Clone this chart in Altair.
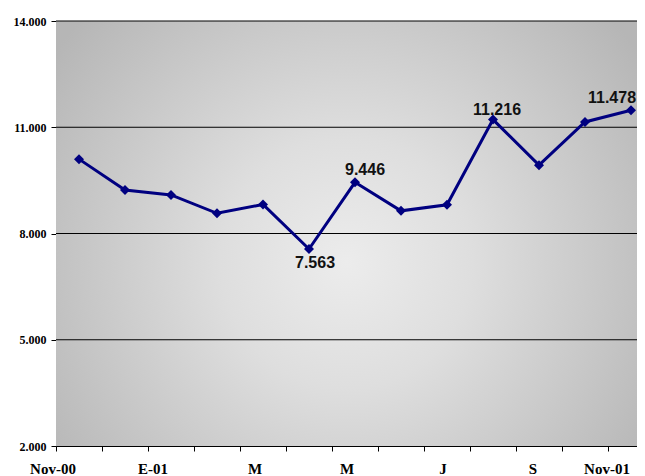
import altair as alt
import pandas as pd

months = ["Nov-00", "Dic-00", "Ene-01", "Feb-01", "Mar-01", "Abr-01", "May-01",
          "Jun-01", "Jul-01", "Ago-01", "Sep-01", "Oct-01", "Nov-01"]
tick_labels = ["Nov-00", "", "E-01", "", "M", "", "M", "", "J", "", "S", "", "Nov-01"]
values = [10100, 9230, 9090, 8570, 8820, 7563, 9446, 8640, 8810, 11216, 9930, 11150, 11478]
point_labels = ["", "", "", "", "", "7.563", "9.446", "", "", "11.216", "", "", "11.478"]
y_ticks = [2000, 5000, 8000, 11000, 14000]

df = pd.DataFrame({"month": months, "value": values, "label": point_labels})
grid_df = pd.DataFrame({"value": y_ticks[1:]})

months_js = "[" + ",".join(f"'{m}'" for m in months) + "]"
labels_js = "[" + ",".join(f"'{t}'" for t in tick_labels) + "]"
x_label_expr = f"{labels_js}[indexof({months_js}, datum.value)]"

NAVY = "#000080"
W, H = 581, 425

x_enc = alt.X(
    "month:N",
    sort=months,
    bandPosition=0.5,
    scale=alt.Scale(type="band", paddingInner=0, paddingOuter=0, range=[0, 598]),
    axis=alt.Axis(
        title=None,
        bandPosition=0,
        labelExpr=x_label_expr,
        labelFont="Liberation Serif",
        labelFontWeight="bold",
        labelFontSize=15,
        labelColor="black",
        labelAngle=0,
        labelPadding=10,
        labelOverlap=False,
        labelBound=False,
        labelFlush=False,
        labelOffset={"condition": [
            {"test": "datum.value == 'Nov-00'", "value": -26},
            {"test": "datum.value == 'Ene-01'", "value": -18},
            {"test": "datum.value == 'Mar-01' || datum.value == 'May-01'", "value": -8},
            {"test": "datum.value == 'Jul-01'", "value": -4},
            {"test": "datum.value == 'Nov-01'", "value": -24},
        ], "value": -6},
        tickSize=5,
        tickColor="black",
        domainColor="black",
        grid=False,
    ),
)

y_scale = alt.Scale(domain=[2000, 14000], nice=False, zero=False)
y_enc = alt.Y(
    "value:Q",
    scale=y_scale,
    axis=alt.Axis(
        title=None,
        values=y_ticks,
        labelExpr="replace(format(datum.value, ','), ',', '.')",
        labelFont="Liberation Serif",
        labelFontWeight="bold",
        labelFontSize=12,
        labelColor="black",
        labelPadding=5,
        tickSize=5,
        tickColor="black",
        domainColor="black",
        grid=False,
    ),
)

bg = alt.Chart(alt.Data(values=[{"a": 1}])).mark_rect(
    fill={
        "gradient": "radial",
        "x1": 0.5, "y1": 0.55, "r1": 0,
        "x2": 0.5, "y2": 0.55, "r2": 0.62,
        "stops": [
            {"offset": 0, "color": "#ececec"},
            {"offset": 0.35, "color": "#dedede"},
            {"offset": 1, "color": "#b6b6b6"},
        ],
    },
    stroke=None,
).encode(x=alt.value(0), x2=alt.value(W), y=alt.value(0), y2=alt.value(H))

grid = alt.Chart(grid_df).mark_rule(color="black", strokeWidth=1).encode(
    y=alt.Y("value:Q", scale=y_scale)
)

base = alt.Chart(df)

line = base.mark_line(color=NAVY, strokeWidth=3).encode(x=x_enc, y=y_enc)
points = base.mark_point(shape="diamond", filled=True, color=NAVY, size=100, opacity=1).encode(x=x_enc, y=y_enc)


def text_layer(lbl, dx, dy):
    return base.transform_filter(alt.datum.label == lbl).mark_text(
        font="Liberation Sans", fontWeight="bold", fontSize=16, color="#111111",
        dx=dx, dy=dy, baseline="middle", align="center"
    ).encode(x=x_enc, y=y_enc, text="label:N")


texts = [
    text_layer("7.563", 6, 14),
    text_layer("9.446", 10, -12),
    text_layer("11.216", 4, -10),
    text_layer("11.478", -19, -12),
]

chart = alt.layer(bg, grid, line, points, *texts).properties(
    width=W,
    height=H,
    autosize=alt.AutoSizeParams(type="none"),
    padding={"left": 48, "top": 13, "right": 0, "bottom": 30},
).configure_view(stroke=None)

chart.save("out.html", embed_options={"renderer": "svg", "actions": False})
